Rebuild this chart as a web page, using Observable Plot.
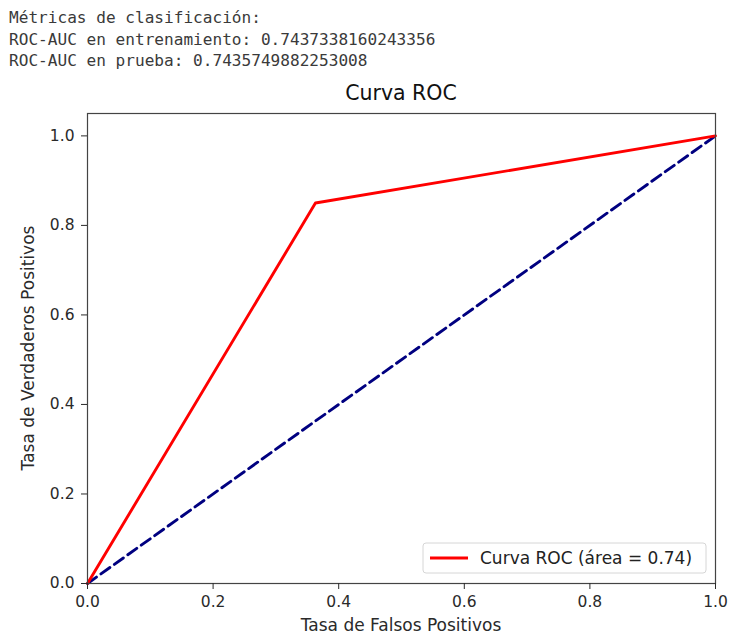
<!DOCTYPE html>
<html><head><meta charset="utf-8">
<script src="https://cdn.jsdelivr.net/npm/d3@7"></script>
<script src="https://cdn.jsdelivr.net/npm/@observablehq/plot@0.6"></script>
<style>
body{margin:0;background:#fff;}
#hdr{height:75px;font-family:"DejaVu Sans Mono",monospace;font-size:16.1px;color:#3a3a3a;padding-left:9px;box-sizing:border-box;padding-top:7px;line-height:21.5px;white-space:pre;}
#chart svg{display:block;}
</style></head><body>
<div id="hdr"></div>
<div id="chart"></div>
<script>
const headerLines = [
  "Métricas de clasificación:",
  "ROC-AUC en entrenamiento: 0.7437338160243356",
  "ROC-AUC en prueba: 0.7435749882253008"
];
const rocFpr = [0, 0.363, 1];
const rocTpr = [0, 0.85, 1];
const chanceFpr = [0, 1];
const chanceTpr = [0, 1];
const xTicks = [0, 0.2, 0.4, 0.6, 0.8, 1.0];
const yTicks = [0, 0.2, 0.4, 0.6, 0.8, 1.0];
const titleText = "Curva ROC";
const xLabel = "Tasa de Falsos Positivos";
const yLabel = "Tasa de Verdaderos Positivos";
const legendLabel = "Curva ROC (área = 0.74)";

document.getElementById("hdr").textContent = headerLines.join("\n");

const roc = rocFpr.map((x, i) => ({x, y: rocTpr[i]}));
const chance = chanceFpr.map((x, i) => ({x, y: chanceTpr[i]}));

const FONT = "DejaVu Sans, sans-serif";

const plot = Plot.plot({
  width: 730,
  height: 559,
  marginLeft: 87,
  marginRight: 15,
  marginTop: 38,
  marginBottom: 51,
  style: {fontFamily: FONT, fontSize: "15.5px", color: "#2a2a2a", background: "#fff"},
  x: {domain: [0, 1]},
  y: {domain: [0, 1.05]},
  marks: [
    Plot.line(chance, {x: "x", y: "y", stroke: "#000080", strokeWidth: 2.9, strokeDasharray: "11,5.5"}),
    Plot.line(roc, {x: "x", y: "y", stroke: "#ff0000", strokeWidth: 2.9}),
    Plot.frame({stroke: "#444", strokeWidth: 1.2}),
    Plot.axisX({ticks: xTicks, tickFormat: d3.format(".1f"), tickSize: 6, tickPadding: 6, label: null, fontSize: "15.5px"}),
    Plot.axisY({ticks: yTicks, tickFormat: d3.format(".1f"), tickSize: 6, tickPadding: 7, label: null, fontSize: "15.5px"})
  ]
});

document.getElementById("chart").appendChild(plot);

const svg = d3.select(plot);
const xs = plot.scale("x"), ys = plot.scale("y");
const pLeft = xs.range[0], pRight = xs.range[1];
const pBottom = ys.range[0], pTop = ys.range[1];
const cx = (pLeft + pRight) / 2, cy = (pTop + pBottom) / 2;

svg.append("text")
  .attr("x", cx).attr("y", pTop - 20).attr("dy", "0.35em")
  .attr("text-anchor", "middle").attr("font-family", FONT)
  .attr("font-size", 20.5).attr("fill", "#111")
  .text(titleText);

svg.append("text")
  .attr("x", cx).attr("y", pBottom + 42).attr("dy", "0.35em")
  .attr("text-anchor", "middle").attr("font-family", FONT)
  .attr("font-size", 17).attr("fill", "#2a2a2a")
  .text(xLabel);

svg.append("text")
  .attr("transform", `translate(28,${cy}) rotate(-90)`).attr("dy", "0.35em")
  .attr("text-anchor", "middle").attr("font-family", FONT)
  .attr("font-size", 17).attr("fill", "#2a2a2a")
  .text(yLabel);

const lw = 283, lh = 30;
const lx = pRight - 9 - lw, ly = pBottom - 10 - lh;
const lg = svg.append("g");
lg.append("rect").attr("x", lx).attr("y", ly).attr("width", lw).attr("height", lh)
  .attr("rx", 3).attr("fill", "#fff").attr("fill-opacity", 0.8).attr("stroke", "#d6d6d6");
lg.append("line").attr("x1", lx + 7).attr("x2", lx + 45).attr("y1", ly + lh / 2).attr("y2", ly + lh / 2)
  .attr("stroke", "#ff0000").attr("stroke-width", 2.9);
lg.append("text").attr("x", lx + 57).attr("y", ly + lh / 2).attr("dy", "0.35em")
  .attr("text-anchor", "start")
  .attr("font-family", FONT).attr("font-size", 17).attr("fill", "#222")
  .text(legendLabel);
</script>
</body></html>
